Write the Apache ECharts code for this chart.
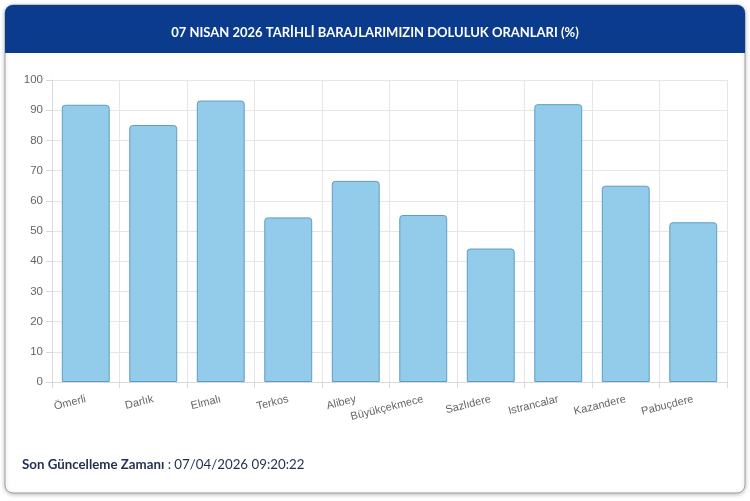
<!DOCTYPE html>
<html>
<head>
<meta charset="utf-8">
<script src="https://cdn.jsdelivr.net/npm/echarts@6/dist/echarts.min.js"></script>
<style>
html,body{margin:0;padding:0;background:#ffffff;}
#chart{width:750px;height:501px;}
</style>
</head>
<body>
<div id="chart"></div>
<script>
const titleText = '07 NISAN 2026 TARİHLİ BARAJLARIMIZIN DOLULUK ORANLARI (%)';
const categories = ['Ömerli','Darlık','Elmalı','Terkos','Alibey','Büyükçekmece','Sazlıdere','Istrancalar','Kazandere','Pabuçdere'];
const fillRates = [91.8, 85.1, 93.2, 54.5, 66.6, 55.3, 44.2, 92.0, 65.0, 52.9];
const yTicks = {min: 0, max: 100, interval: 10};
const footerLabel = 'Son Güncelleme Zamanı';
const footerValue = ': 07/04/2026 09:20:22';

const chart = echarts.init(document.getElementById('chart'), null, {renderer: 'canvas'});
chart.setOption({
  animation: false,
  backgroundColor: '#ffffff',
  graphic: [
    {type: 'rect', z: -10, shape: {x: 5, y: 5, width: 740, height: 488, r: 8},
     style: {fill: '#ffffff', stroke: '#a0a0a0', lineWidth: 1, shadowBlur: 4, shadowColor: 'rgba(0,0,0,0.25)', shadowOffsetY: 1}},
    {type: 'rect', z: -9, shape: {x: 5, y: 5, width: 740, height: 48, r: [8, 8, 0, 0]},
     style: {fill: '#0b3b8c'}},
    {type: 'text', left: 22, top: 458,
     style: {
       text: '{b|' + footerLabel + '} {n|' + footerValue + '}',
       rich: {
         b: {fontFamily: 'Lato', fontWeight: 'bold', fontSize: 13.3, fill: '#1f2f4d', color: '#1f2f4d'},
         n: {fontFamily: 'Lato', fontSize: 13.3, fill: '#1f2f4d', color: '#1f2f4d'}
       }
     }}
  ],
  title: {
    text: titleText,
    left: 'center', top: 21,
    textStyle: {color: '#ffffff', fontFamily: 'Lato', fontWeight: 'bold', fontSize: 13}
  },
  grid: {left: 52, right: 23, top: 80, bottom: 119, containLabel: false},
  xAxis: {
    type: 'category',
    data: categories,
    axisLine: {show: true, lineStyle: {color: '#d9d9d9'}},
    axisTick: {show: true, length: 6, lineStyle: {color: '#d9d9d9'}},
    splitLine: {show: true, lineStyle: {color: '#e6e6e6'}},
    axisLabel: {rotate: 14, color: '#666666', fontFamily: 'Liberation Sans', fontSize: 11, margin: 17, interval: 0}
  },
  yAxis: {
    type: 'value',
    min: yTicks.min, max: yTicks.max, interval: yTicks.interval,
    axisLine: {show: true, lineStyle: {color: '#d9d9d9'}},
    axisTick: {show: true, length: 6, lineStyle: {color: '#d9d9d9'}},
    splitLine: {show: true, lineStyle: {color: '#e6e6e6'}},
    axisLabel: {color: '#666666', fontFamily: 'Liberation Sans', fontSize: 11.5, margin: 9}
  },
  series: [{
    type: 'bar',
    data: fillRates,
    barCategoryGap: '29%',
    itemStyle: {color: '#93cbea', borderColor: '#5e9dc2', borderWidth: 1, borderRadius: [3, 3, 0, 0]}
  }]
});
</script>
</body>
</html>
